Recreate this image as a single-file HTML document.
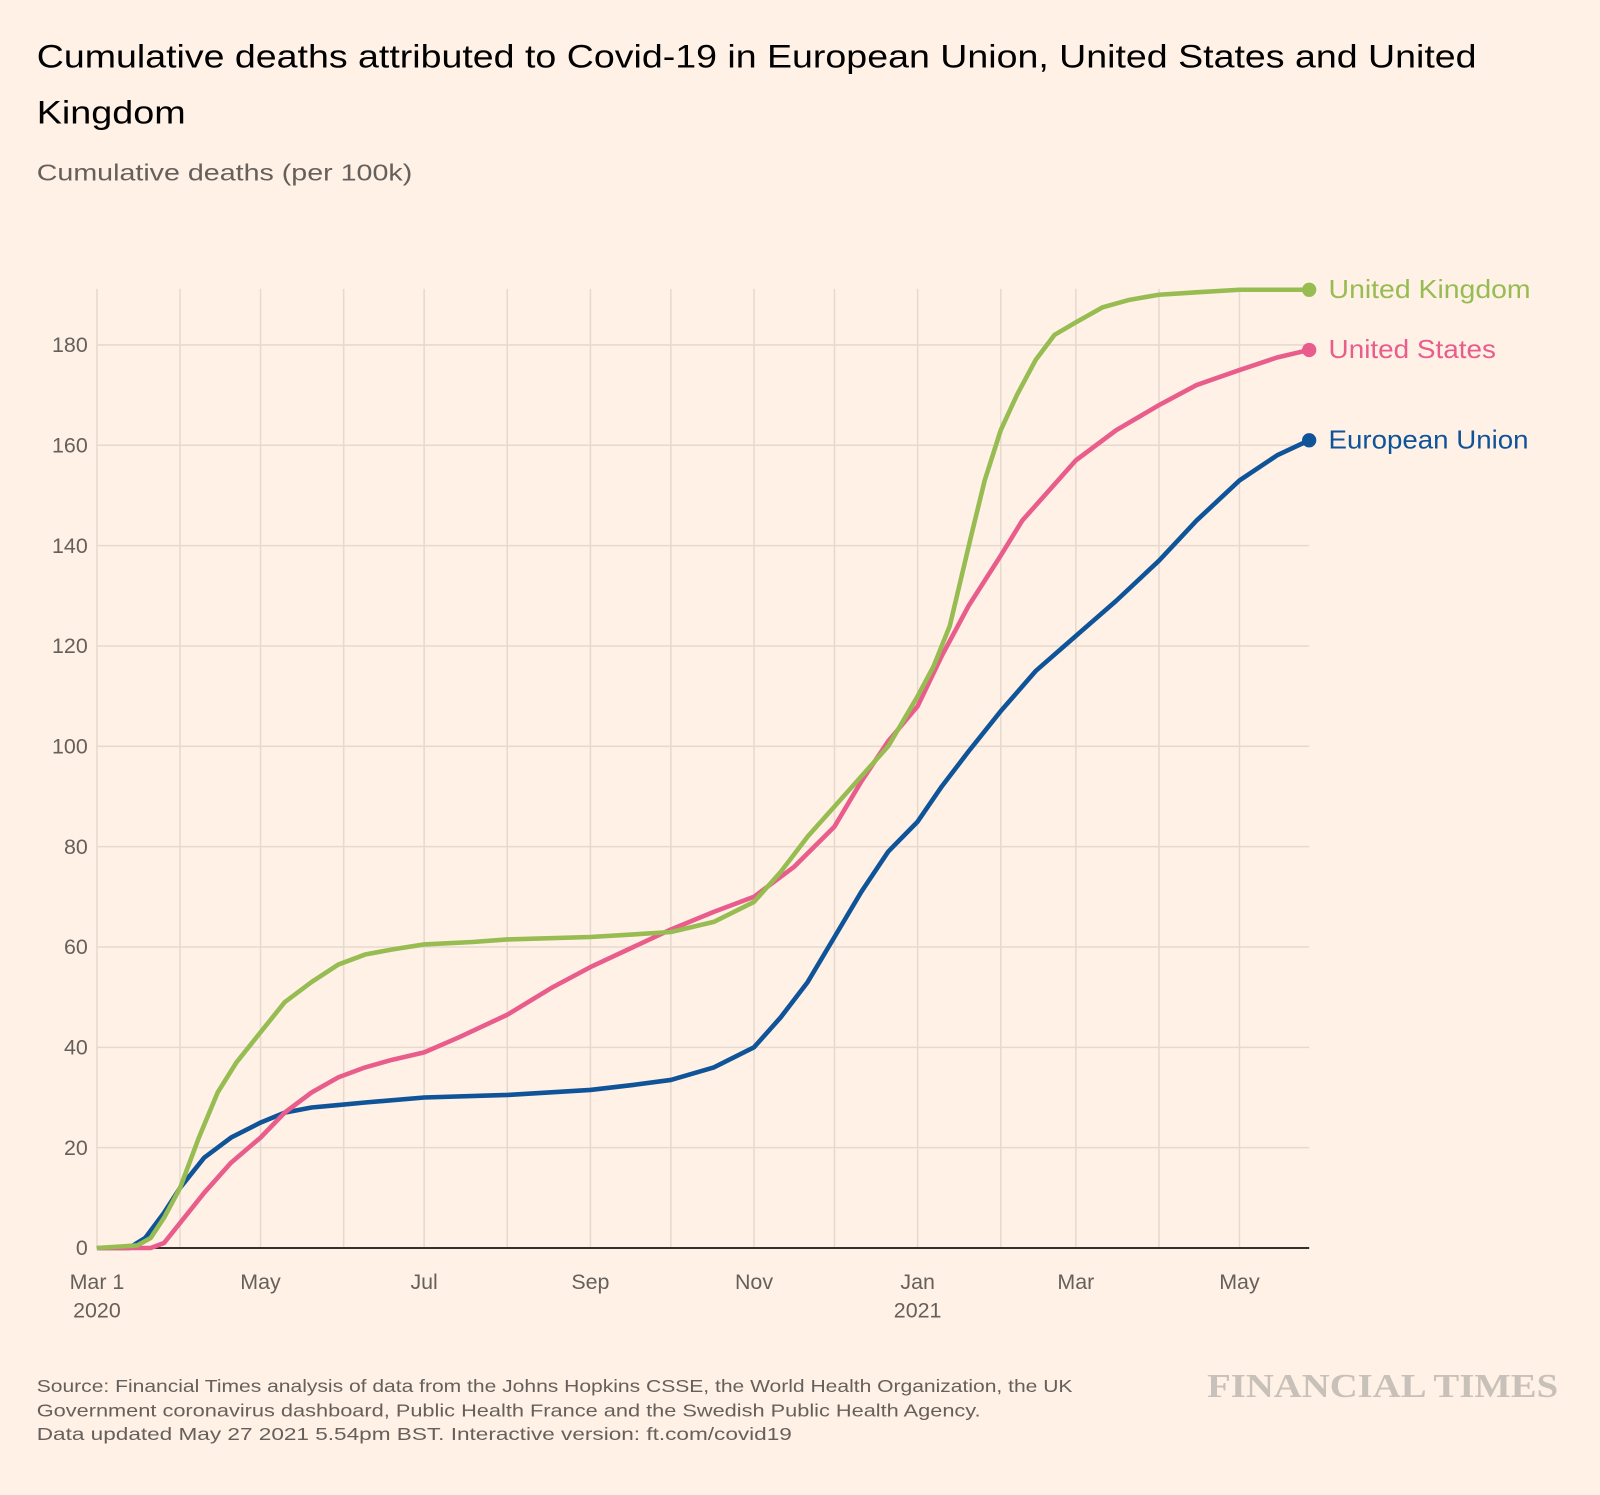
<!DOCTYPE html>
<html><head><meta charset="utf-8">
<style>
html,body{margin:0;padding:0;background:#fff1e5;}
svg{display:block;font-family:"Liberation Sans",sans-serif;}
</style></head>
<body>
<svg id="chart" width="1600" height="1495" viewBox="0 0 1568 1465" xmlns="http://www.w3.org/2000/svg">
<rect width="1568" height="1465" fill="#fff1e5"/>
<text x="36" y="66" font-size="32" fill="#000" textLength="1411" lengthAdjust="spacingAndGlyphs">Cumulative deaths attributed to Covid-19 in European Union, United States and United</text>
<text x="36" y="121" font-size="32" fill="#000" textLength="146" lengthAdjust="spacingAndGlyphs">Kingdom</text>
<text x="36" y="177" font-size="23" fill="#66605c" textLength="368" lengthAdjust="spacingAndGlyphs">Cumulative deaths (per 100k)</text>
<g id="grid"></g>
<g id="lines"></g>
<g id="labels"></g>
<text x="36" y="1364" font-size="17" fill="#66605c" textLength="1015" lengthAdjust="spacingAndGlyphs">Source: Financial Times analysis of data from the Johns Hopkins CSSE, the World Health Organization, the UK</text>
<text x="36" y="1388" font-size="17" fill="#66605c" textLength="925" lengthAdjust="spacingAndGlyphs">Government coronavirus dashboard, Public Health France and the Swedish Public Health Agency.</text>
<text x="36" y="1411" font-size="17" fill="#66605c" textLength="740" lengthAdjust="spacingAndGlyphs">Data updated May 27 2021 5.54pm BST. Interactive version: ft.com/covid19</text>
<text x="1183" y="1369" font-size="33" font-family="Liberation Serif,serif" font-weight="bold" fill="#c8c1b9" textLength="344" lengthAdjust="spacingAndGlyphs">FINANCIAL TIMES</text>
</svg>
<script>
const yTicks=[0,20,40,60,80,100,120,140,160,180];
const monthDays=[0,31,61,92,122,153,184,214,245,275,306,337,365,396,426];
const xTickLabels=[["Mar 1","2020",0],["May","",61],["Jul","",122],["Sep","",184],["Nov","",245],["Jan","2021",306],["Mar","",365],["May","",426]];
const ukDays=[0,15,20,25,31,38,45,52,61,70,80,90,100,110,122,140,153,184,200,214,230,245,255,265,275,285,295,306,312,318,322,326,331,337,343,350,357,365,375,385,396,410,426,452];
const ukVals=[0,0.5,2,6,12,22,31,37,43,49,53,56.5,58.5,59.5,60.5,61,61.5,62,62.5,63,65,69,75,82,88,94,100,110,116,124,133,142,153,163,170,177,182,184.5,187.5,189,190,190.5,191,191];
const usDays=[0,20,25,31,40,50,61,70,80,90,100,110,122,135,153,170,184,200,214,230,245,260,275,285,295,306,315,325,337,345,355,365,380,396,410,426,440,452];
const usVals=[0,0,1,5,11,17,22,27,31,34,36,37.5,39,42,46.5,52,56,60,63.5,67,70,76,84,93,101,108,118,128,138,145,151,157,163,168,172,175,177.5,179];
const euDays=[0,12,18,25,31,40,50,61,70,80,90,100,122,153,184,200,214,230,245,255,265,275,285,295,306,315,325,337,350,365,380,396,410,426,440,452];
const euVals=[0,0,2,7,12,18,22,25,27,28,28.5,29,30,30.5,31.5,32.5,33.5,36,40,46,53,62,71,79,85,92,99,107,115,122,129,137,145,153,158,161];
const NS="http://www.w3.org/2000/svg";
const X0=95,PXD=(1283-95)/452,Y0=1223,PXV=(1223-338)/180;
const xs=d=>X0+d*PXD, ys=v=>Y0-v*PXV;
const grid=document.getElementById('grid'),lines=document.getElementById('lines'),labels=document.getElementById('labels');
function mk(t,a,p){const e=document.createElementNS(NS,t);for(const k in a)e.setAttribute(k,a[k]);p.appendChild(e);return e;}
monthDays.forEach(d=>{
 const l=mk('line',{x1:xs(d),x2:xs(d),y1:283,y2:Y0,stroke:'#e6d9ce','stroke-width':1.5},grid);
 
 
});
yTicks.forEach(v=>{
 if(v>0){const l=mk('line',{x1:X0,x2:1283,y1:ys(v),y2:ys(v),stroke:'#e6d9ce','stroke-width':1.5},grid);
 
 }
 const t=mk('text',{x:86,y:ys(v)+7,'text-anchor':'end','font-size':21,fill:'#66605c'},grid);
 t.textContent=v;
 
 
});
const ax=mk('line',{x1:X0,x2:1283,y1:Y0,y2:Y0,stroke:'#33302e','stroke-width':2},grid);


xTickLabels.forEach(([a,b,d])=>{
 const t=mk('text',{x:xs(d),y:1263,'text-anchor':'middle','font-size':21,fill:'#66605c'},grid);
 t.textContent=a;
 
 
 if(b){const t2=mk('text',{x:xs(d),y:1291,'text-anchor':'middle','font-size':21,fill:'#66605c'},grid);
 t2.textContent=b;
 
 }
});
const series=[["eu",euDays,euVals,"#0f5499","European Union",196],["us",usDays,usVals,"#e95d8c","United States",164],["uk",ukDays,ukVals,"#96bc52","United Kingdom",198]];
series.forEach(([id,D,V,c,name,tl])=>{
 const pts=D.map((d,i)=>xs(d).toFixed(1)+','+ys(V[i]).toFixed(1)).join(' ');
 const p=mk('polyline',{points:pts,fill:'none',stroke:c,'stroke-width':4.5,'stroke-linejoin':'round'},lines);
 
 
 const lx=xs(D[D.length-1]),ly=ys(V[V.length-1]);
 const dot=mk('circle',{cx:lx,cy:ly,r:7,fill:c},labels);
 
 
 const t=mk('text',{x:lx+19,y:ly+8,'font-size':25,fill:c,textLength:tl,lengthAdjust:'spacingAndGlyphs'},labels);
 t.textContent=name;
 
 
});
</script>
</body></html>
